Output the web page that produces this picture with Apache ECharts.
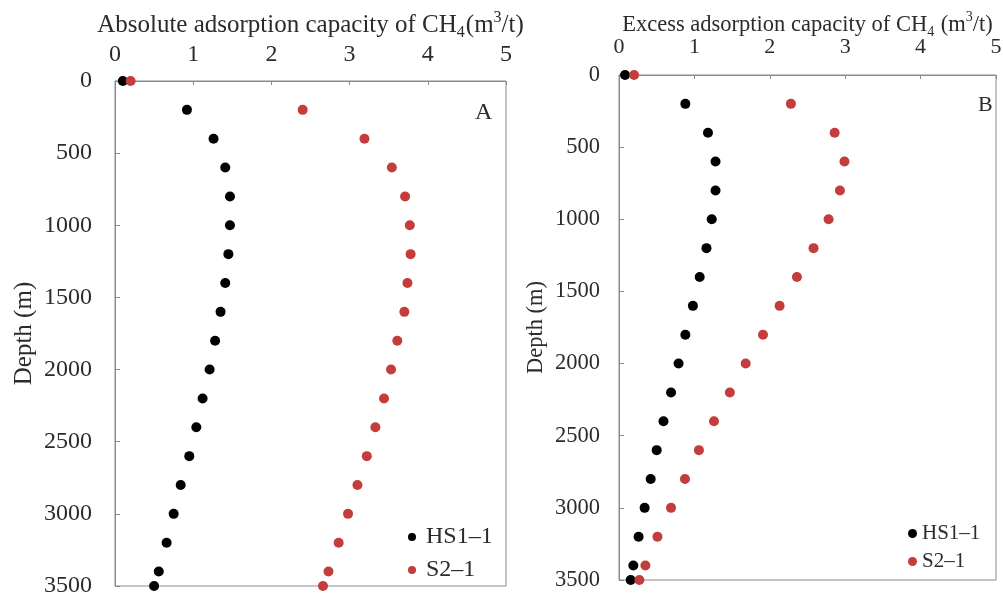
<!DOCTYPE html>
<html>
<head>
<meta charset="utf-8">
<script src="https://cdn.jsdelivr.net/npm/echarts@6/dist/echarts.min.js"></script>
<style>
  html, body { margin: 0; padding: 0; background: #fff; }
  #chart { width: 1003px; height: 595px; }
</style>
</head>
<body>
<div id="chart"></div>
<script>
// Sampling depths (m)
const depths = [0, 200, 400, 600, 800, 1000, 1200, 1400, 1600, 1800, 2000, 2200, 2400, 2600, 2800, 3000, 3200, 3400, 3500];

// Absolute adsorption capacity of CH4 (m3/t)
const absHS1 = [0.10, 0.92, 1.26, 1.41, 1.47, 1.47, 1.45, 1.41, 1.35, 1.28, 1.21, 1.12, 1.04, 0.95, 0.84, 0.75, 0.66, 0.56, 0.50];
const absS2 = [0.20, 2.40, 3.19, 3.54, 3.71, 3.77, 3.78, 3.74, 3.70, 3.61, 3.53, 3.44, 3.33, 3.22, 3.10, 2.98, 2.86, 2.73, 2.66];

// Excess adsorption capacity of CH4 (m3/t)
const excHS1 = [0.08, 0.88, 1.18, 1.28, 1.28, 1.23, 1.16, 1.07, 0.98, 0.88, 0.79, 0.69, 0.59, 0.50, 0.42, 0.34, 0.26, 0.19, 0.155];
const excS2 = [0.20, 2.28, 2.86, 2.99, 2.93, 2.78, 2.58, 2.36, 2.13, 1.91, 1.68, 1.47, 1.26, 1.06, 0.875, 0.69, 0.51, 0.35, 0.27];

const xTicks = [0, 1, 2, 3, 4, 5];
const yTicks = [0, 500, 1000, 1500, 2000, 2500, 3000, 3500];

const seriesNames = ['HS1\u20131', 'S2\u20131'];
const colors = ['#000000', '#c43c3c'];
const FONT = '"Liberation Serif", "DejaVu Serif", serif';
const TXT = '#2b2b2b';

const pair = (xs) => xs.map((v, i) => [v, depths[i]]);

function richName(fs) {
  return {
    fontFamily: FONT, color: TXT,
    rich: {
      t: { fontFamily: FONT, fontSize: fs, color: TXT, lineHeight: fs + 6, verticalAlign: 'middle' },
      sub: { fontFamily: FONT, fontSize: Math.round(fs * 0.62), color: TXT, lineHeight: fs + 6, verticalAlign: 'bottom', padding: [0, 1, 0, 0] },
      sup: { fontFamily: FONT, fontSize: Math.round(fs * 0.62), color: TXT, lineHeight: fs + 6, verticalAlign: 'top' }
    }
  };
}

function xAxisFor(gridIndex, name, fs, nameFs, labelMargin, nameGap) {
  return {
    gridIndex, type: 'value', position: 'top',
    min: 0, max: 5, interval: 1,
    name, nameLocation: 'middle', nameGap, nameMoveOverlap: false,
    nameTextStyle: richName(nameFs),
    axisLine: { show: true, lineStyle: { color: '#8a8a8a', width: 1 } },
    axisTick: { show: true, inside: true, length: 4, lineStyle: { color: '#8a8a8a' } },
    axisLabel: { fontFamily: FONT, fontSize: fs, color: TXT, margin: labelMargin,
      formatter: (v) => xTicks.includes(v) ? String(v) : '' },
    splitLine: { show: false }
  };
}

function yAxisFor(gridIndex, fs, nameFs, labelMargin, nameGap) {
  return {
    gridIndex, type: 'value', inverse: true,
    min: 0, max: 3500, interval: 500,
    name: 'Depth (m)', nameLocation: 'middle', nameGap, nameMoveOverlap: false,
    nameTextStyle: { fontFamily: FONT, fontSize: nameFs, color: TXT },
    axisLine: { show: true, lineStyle: { color: '#8a8a8a', width: 1 } },
    axisTick: { show: true, inside: true, length: 5, lineStyle: { color: '#8a8a8a' } },
    axisLabel: { fontFamily: FONT, fontSize: fs, color: TXT, margin: labelMargin,
      formatter: (v) => yTicks.includes(v) ? String(v) : '' },
    splitLine: { show: false }
  };
}

function scatter(nameIdx, data, xi, yi) {
  return {
    name: seriesNames[nameIdx], type: 'scatter',
    xAxisIndex: xi, yAxisIndex: yi,
    data: pair(data), symbol: 'circle', symbolSize: 10,
    itemStyle: { color: colors[nameIdx], opacity: 1 },
    emphasis: { disabled: true }, z: 3
  };
}

const chart = echarts.init(document.getElementById('chart'), null, { renderer: 'canvas' });
chart.setOption({
  backgroundColor: '#ffffff',
  animation: false,
  grid: [
    { left: 115, top: 81, width: 391, height: 505, outerBoundsMode: 'none', containLabel: false,
      show: true, borderColor: '#8a8a8a', borderWidth: 1, backgroundColor: 'transparent' },
    { left: 619, top: 75, width: 377, height: 505, outerBoundsMode: 'none', containLabel: false,
      show: true, borderColor: '#8a8a8a', borderWidth: 1, backgroundColor: 'transparent' }
  ],
  xAxis: [
    xAxisFor(0, '{t|Absolute adsorption capacity of CH}{sub|4}{t|(m}{sup|3}{t|/t)}', 24, 25, 14, 40),
    xAxisFor(1, '{t|Excess adsorption capacity of CH}{sub|4}{t| (m}{sup|3}{t|/t)}', 22, 22.5, 17, 36)
  ],
  yAxis: [
    yAxisFor(0, 24, 25, 23, 78),
    yAxisFor(1, 22.5, 22.5, 19, 71)
  ],
  legend: [
    { data: seriesNames, orient: 'vertical', left: 403, top: 520, itemGap: 9,
      icon: 'circle', itemWidth: 18, itemHeight: 8,
      textStyle: { fontFamily: FONT, fontSize: 24, color: TXT }, selectedMode: false },
    { data: seriesNames, orient: 'vertical', left: 903, top: 518, itemGap: 7,
      icon: 'circle', itemWidth: 9, itemHeight: 9,
      textStyle: { fontFamily: FONT, fontSize: 21, color: TXT }, selectedMode: false }
  ],
  graphic: [
    { type: 'text', left: 475, top: 101, style: { text: 'A', font: '24px ' + FONT, fill: TXT } },
    { type: 'text', left: 978, top: 94, style: { text: 'B', font: '22px ' + FONT, fill: TXT } }
  ],
  series: [
    scatter(0, absHS1, 0, 0),
    scatter(1, absS2, 0, 0),
    scatter(0, excHS1, 1, 1),
    scatter(1, excS2, 1, 1)
  ]
});
</script>
</body>
</html>
